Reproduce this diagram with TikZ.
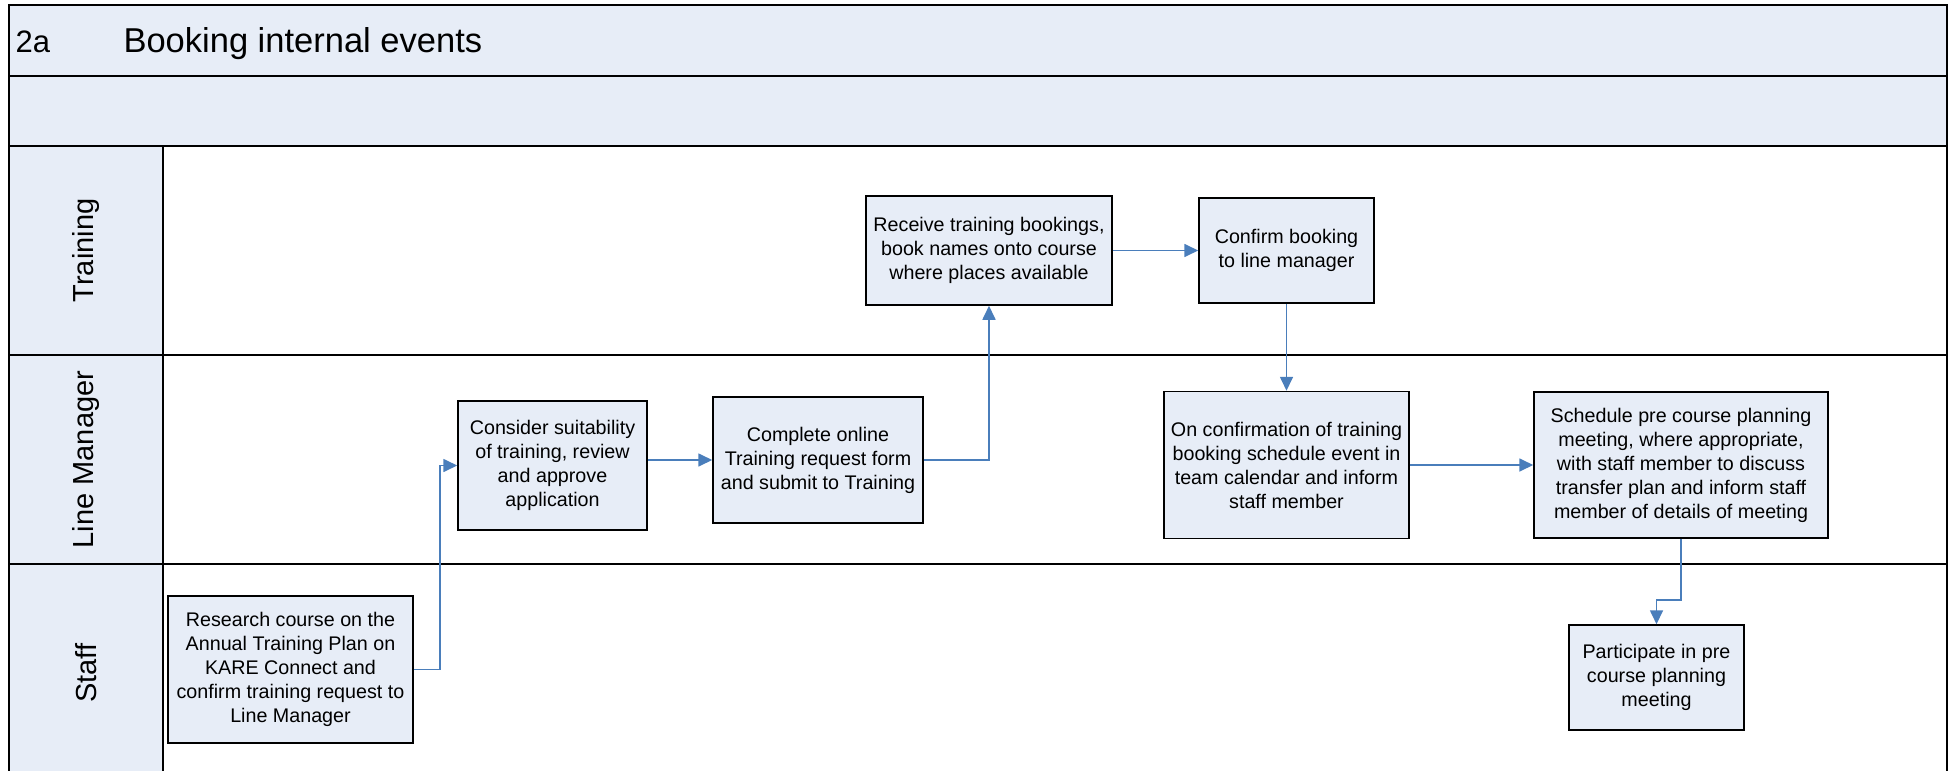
\documentclass[tikz,border=0pt]{standalone}
\usepackage{fontspec}
\setmainfont{Liberation Sans}
\usetikzlibrary{arrows.meta}
\definecolor{paneblue}{HTML}{E7EDF7}
\definecolor{flowblue}{HTML}{4A7EBB}

\begin{document}
\begin{tikzpicture}[x=1pt,y=-1pt,
  stepbox/.style={draw=black, line width=1.5pt, fill=paneblue, align=center,
    font=\fontsize{19.7}{24}\selectfont, inner sep=0pt},
  flow/.style={draw=flowblue, line width=1.7pt, -{Triangle[length=14pt,width=13pt]}},
  lane/.style={draw=black, line width=2.1pt},
  lanelabel/.style={rotate=90, font=\fontsize{29}{34}\selectfont},
  titletext/.style={anchor=base west, font=\fontsize{34.5}{40}\selectfont}]

\useasboundingbox (0,0) rectangle (1955,771);
\clip (0,0) rectangle (1955,771);

% header bands and lane header column
\fill[paneblue] (9,5) rectangle (1947,146);
\fill[paneblue] (9,146) rectangle (163,773);

% frame and lane separators
\draw[lane] (9,5) rectangle (1947,773);
\draw[lane] (9,76) -- (1947,76);
\draw[lane] (9,146) -- (1947,146);
\draw[lane] (9,355) -- (1947,355);
\draw[lane] (9,564) -- (1947,564);
\draw[lane] (163,146) -- (163,773);

% title
\node[titletext, font=\fontsize{31}{38}\selectfont] (code) at (12,52) {2a};
\node[titletext] (title) at (120,52) {Booking internal events};

% lane names
\node[lanelabel] (ltraining) at (86,250.5) {Training};
\node[lanelabel] (lmanager) at (86,459.5) {Line Manager};
\node[lanelabel] (lstaff) at (86,673) {Staff};

% process steps
\node[stepbox, minimum width=245pt, minimum height=147pt] (research) at (290.5,669.5)
  {Research course on the\\Annual Training Plan on\\KARE Connect and\\confirm training request to\\Line Manager};
\node[stepbox, minimum width=189pt, minimum height=129pt] (consider) at (552.5,465.5)
  {Consider suitability\\of training, review\\and approve\\application};
\node[stepbox, minimum width=210pt, minimum height=126pt] (complete) at (818,460)
  {Complete online\\Training request form\\and submit to Training};
\node[stepbox, minimum width=246pt, minimum height=109pt] (receive) at (989,250.5)
  {Receive training bookings,\\book names onto course\\where places available};
\node[stepbox, minimum width=175pt, minimum height=105pt] (confirm) at (1286.5,250.5)
  {Confirm booking\\to line manager};
\node[stepbox, minimum width=245pt, minimum height=147pt] (onconf) at (1286.5,465)
  {On confirmation of training\\booking schedule event in\\team calendar and inform\\staff member};
\node[stepbox, minimum width=294pt, minimum height=146pt] (schedule) at (1681,465)
  {Schedule pre course planning\\meeting, where appropriate,\\with staff member to discuss\\transfer plan and inform staff\\member of details of meeting};
\node[stepbox, minimum width=175pt, minimum height=105pt] (participate) at (1656.5,677.5)
  {Participate in pre\\course planning\\meeting};

% connectors
\draw[flow] (research.east) -- ++(26,0) |- (consider.west);
\draw[flow] (consider.east |- complete.west) -- (complete.west);
\draw[flow] (complete.east) -| (receive.south);
\draw[flow] (receive.east) -- (confirm.west);
\draw[flow] (confirm.south) -- (onconf.north);
\draw[flow] (onconf.east) -- (schedule.west);
\draw[flow] (schedule.south) -- ++(0,61) -| (participate.north);
\end{tikzpicture}
\end{document}
